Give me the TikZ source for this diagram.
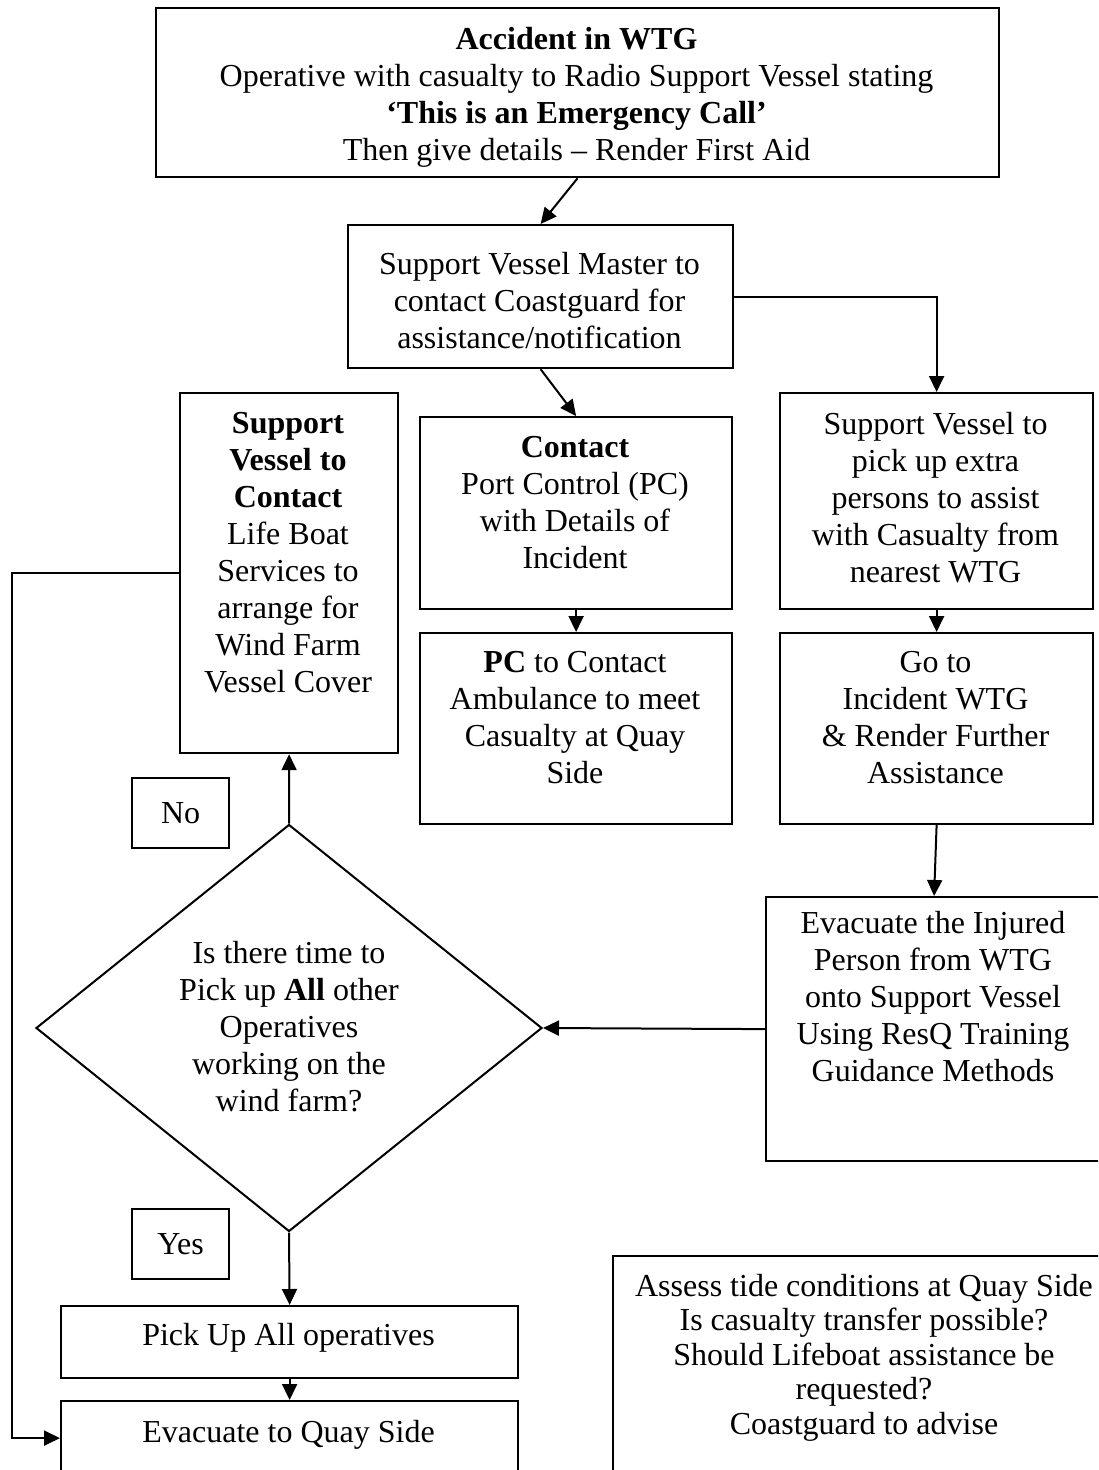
\documentclass[tikz,border=0pt]{standalone}
\usepackage{fontspec}
\setmainfont{Liberation Serif}
\usetikzlibrary{arrows.meta,shapes.geometric}
\begin{document}
\begin{tikzpicture}[x=1pt,y=-1pt,
  box/.style={draw, line width=2.2pt, inner sep=0pt, anchor=north west},
  txt/.style={inner sep=0pt, align=center, anchor=north, font=\fontsize{32}{37}\selectfont},
  lbl/.style={inner sep=0pt, font=\fontsize{32}{37}\selectfont},
  arr/.style={line width=2pt, -{Triangle[length=16pt,width=15pt]}},
]
\useasboundingbox (0,0) rectangle (1098,1470);
\clip (0,0) rectangle (1098,1470);

% frames
\node[box, minimum width=843pt, minimum height=169pt] (top)      at (155,7)    {};
\node[box, minimum width=385pt, minimum height=143pt] (master)   at (347,224)  {};
\node[box, minimum width=218pt, minimum height=360pt] (lifeboat) at (179,392)  {};
\node[box, minimum width=312pt, minimum height=192pt] (portctl)  at (419,416)  {};
\node[box, minimum width=313pt, minimum height=216pt] (extra)    at (779,392)  {};
\node[box, minimum width=312pt, minimum height=191pt] (ambul)    at (419,632)  {};
\node[box, minimum width=313pt, minimum height=191pt] (goto)     at (779,632)  {};
\node[box, minimum width=336pt, minimum height=264pt] (evacinj)  at (765,896)  {};
\node[box, minimum width=97pt,  minimum height=70pt]  (no)       at (131,777)  {};
\node[box, minimum width=97pt,  minimum height=70pt]  (yes)      at (131,1208) {};
\node[box, minimum width=457pt, minimum height=72pt]  (pickup)   at (60,1305)  {};
\node[box, minimum width=457pt, minimum height=74pt]  (evacquay) at (60,1400)  {};
\node[box, minimum width=504pt, minimum height=230pt] (assess)   at (612,1255) {};
\node[draw, line width=2pt, shape=diamond, inner sep=0pt,
      minimum width=506pt, minimum height=407pt] (decide) at (289,1028) {};

% texts
\node[txt] (top-t) at (576.5,26.7) {\textbf{Accident in WTG}\\
  Operative with casualty to Radio Support Vessel stating\\
  \textbf{‘This is an Emergency Call’}\\
  Then give details – Render First Aid};
\node[txt] (master-t) at (539.5,251.7) {Support Vessel Master to\\
  contact Coastguard for\\ assistance/notification};
\node[txt] (lifeboat-t) at (288,411.7) {\textbf{Support}\\ \textbf{Vessel to}\\
  \textbf{Contact}\\ Life Boat\\ Services to\\ arrange for\\ Wind Farm\\ Vessel Cover};
\node[txt] (portctl-t) at (575,435.7) {\textbf{Contact}\\ Port Control (PC)\\
  with Details of\\ Incident};
\node[txt] (extra-t) at (935.5,411.7) {Support Vessel to\\ pick up extra\\
  persons to assist\\ with Casualty from\\ nearest WTG};
\node[txt] (ambul-t) at (575,650.7) {\textbf{PC} to Contact\\ Ambulance to meet\\
  Casualty at Quay\\ Side};
\node[txt] (goto-t) at (935.5,650.7) {Go to\\ Incident WTG\\
  \& Render Further\\ Assistance};
\node[txt] (evacinj-t) at (933,910.7) {Evacuate the Injured\\ Person from WTG\\
  onto Support Vessel\\ Using ResQ Training\\ Guidance Methods};
\node[txt] (decide-t) at (289,940.7) {Is there time to\\ Pick up \textbf{All} other\\
  Operatives\\ working on the\\ wind farm?};
\node[lbl] (no-t) at (no.center) {No};
\node[lbl] (yes-t) at (yes.center) {Yes};
\node[txt] (pickup-t) at (288.5,1322.7) {Pick Up All operatives};
\node[txt] (evacquay-t) at (288.5,1419.7) {Evacuate to Quay Side};
\node[txt, font=\fontsize{32}{34.5}\selectfont] (assess-t) at (864,1273.7)
  {Assess tide conditions at Quay Side\\ Is casualty transfer possible?\\
  Should Lifeboat assistance be\\ requested?\\ Coastguard to advise};

% connectors
\coordinate (bend) at (12,1437);
\draw[arr] (top.south) -- (master.north);
\draw[arr] (master.east) -| (extra.north);
\draw[arr] (master.south) -- (portctl.north);
\draw[arr] (portctl.south) -- (ambul.north);
\draw[arr] (extra.south) -- (goto.north);
\draw[arr] (goto.south) -- (evacinj.north);
\draw[arr] (evacinj.west) -- (decide.east);
\draw[arr] (decide.north) -- (lifeboat.south);
\draw[arr] (decide.south) -- (pickup.north);
\draw[arr] (pickup.south) -- (evacquay.north);
\draw[arr] (lifeboat.west) -| (bend) |- (evacquay.west);
\end{tikzpicture}
\end{document}
